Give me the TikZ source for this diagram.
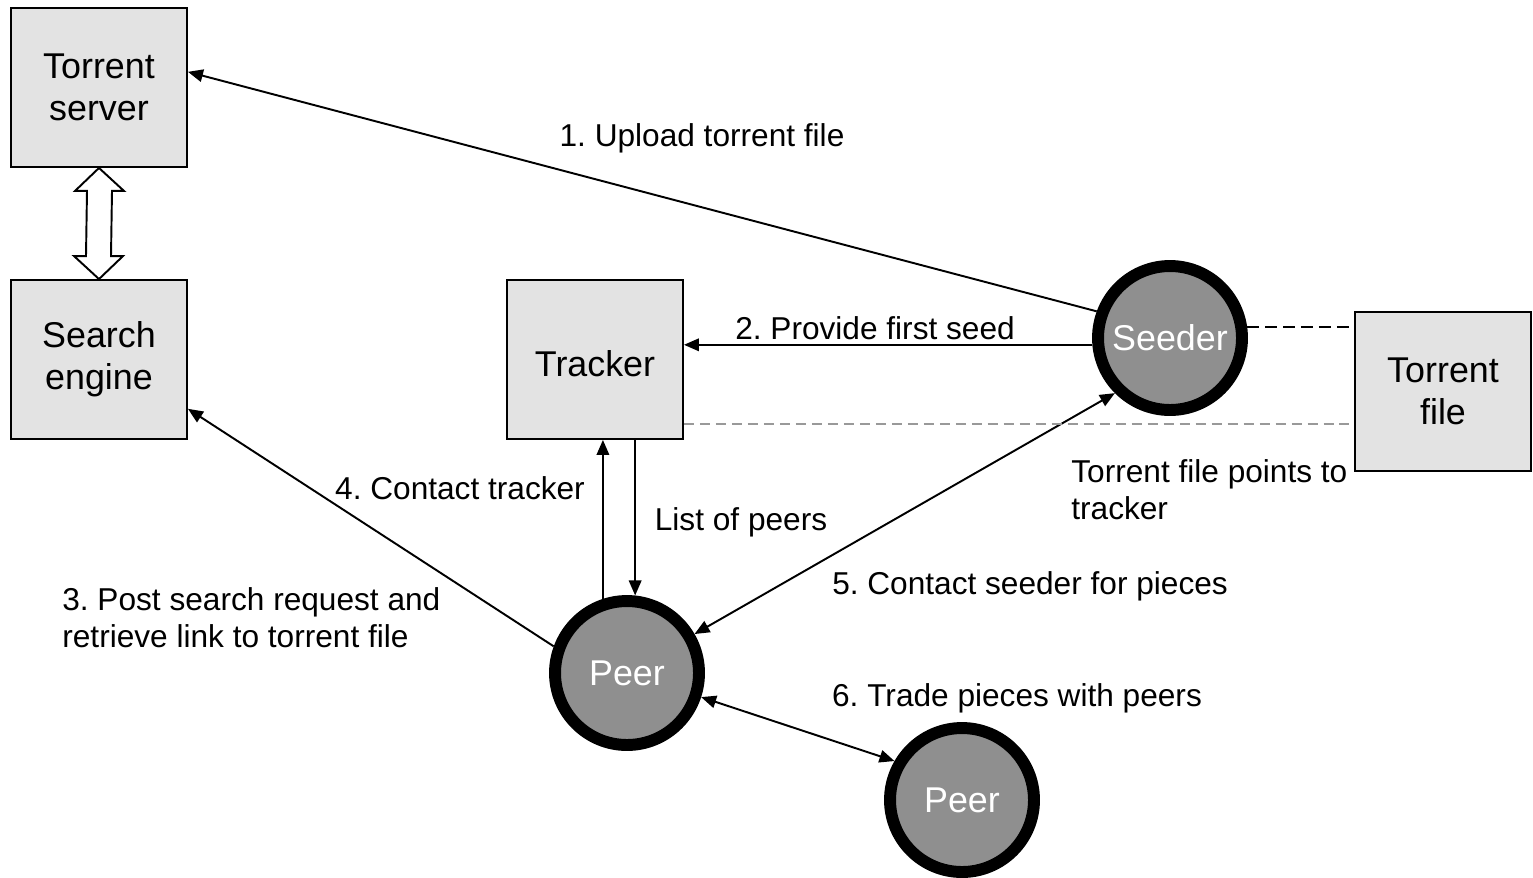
\documentclass[tikz,border=0pt]{standalone}
\usepackage{fontspec}
\setmainfont{Liberation Sans}
\usepackage{tikz}
\usetikzlibrary{arrows.meta, calc}
\definecolor{boxgray}{HTML}{E3E3E3}
\definecolor{hostgray}{HTML}{8F8F8F}
\definecolor{lightline}{HTML}{999999}
\frenchspacing

\begin{document}
\begin{tikzpicture}[
    x=0.02cm, y=-0.02cm,
    blk/.style={draw, line width=1.1pt, fill=boxgray, minimum width=3.52cm,
                minimum height=3.18cm, align=center, inner sep=0pt,
                execute at begin node={\rule{0pt}{19pt}},
                font=\fontsize{20.4}{23.8}\selectfont},
    host/.style={circle, draw, line width=6.8pt, fill=hostgray, minimum size=2.88cm,
                 inner sep=0pt, text=white, font=\fontsize{20.4}{23.8}\selectfont},
    lbl/.style={align=left, inner sep=0pt, font=\fontsize{18}{21}\selectfont},
    arr/.style={-{Triangle[length=0.3cm, width=0.25cm]}, line width=1.1pt},
    dbl/.style={{Triangle[length=0.3cm, width=0.25cm]}-{Triangle[length=0.3cm, width=0.25cm]},
                line width=1.1pt}
]
\useasboundingbox (0,0) rectangle (1533,877);

\node[blk]  (server)  at (99, 87.5)   {Torrent\\server};
\node[blk]  (search)  at (99, 359.5)  {Search\\engine};
\node[blk]  (tracker) at (595, 359.5) {Tracker};
\node[blk]  (tfile)   at (1443, 391.5) {Torrent\\file};
\node[host] (seeder)  at (1170, 338)  {Seeder};
\node[host] (peer)    at (627, 673)   {Peer};
\node[host] (peerb)   at (962, 800)   {Peer};

% server <-> search engine
\draw[line width=1.1pt, fill=white] (server.south) -- ++(25,23) -- ++(-12,0)
    -- ($(search.north)+(12,-23)$) -- ++(12,0) -- (search.north) -- ++(-25,-23)
    -- ++(12,0) -- ($(server.south)+(-12,23)$) -- ++(-12,0) -- cycle;

\draw[arr] (seeder.160) -- (server.10);
\draw[arr] (seeder.185) -- (seeder.185 -| tracker.east);
\draw[arr] (peer.160) -- (search.-29);
\draw[arr] (peer.108) -- (peer.108 |- tracker.south);
\draw[arr] (peer.84 |- tracker.south) -- (peer.84);
\draw[dbl] (peer.30) -- (seeder.225);
\draw[dbl] (peer.-18) -- (peerb.150);

\draw[line width=1.1pt, dash pattern=on 6.8pt off 3.4pt] (seeder.8) -- (seeder.8 -| tfile.west);
\draw[lightline, line width=1.1pt, dash pattern=on 5.7pt off 3.4pt]
    (tracker.-36) -- ($(tracker.-36 -| tfile.west)+(-5,0)$);

\node[lbl] (l1) at (702, 138) {1. Upload torrent file};
\node[lbl] (l2) at (875, 328) {2. Provide first seed};
\node[lbl, anchor=west] (l3) at (62, 618) {3. Post search request and\\retrieve link to torrent file};
\node[lbl] (l4) at (460, 488) {4. Contact tracker};
\node[lbl] (l5) at (741, 522) {List of peers};
\node[lbl] (l6) at (1030, 586) {5. Contact seeder for pieces};
\node[lbl] (l7) at (1017, 698) {6. Trade pieces with peers};
\node[lbl, anchor=west] (l8) at (1071, 490) {Torrent file points to\\tracker};
\end{tikzpicture}
\end{document}
